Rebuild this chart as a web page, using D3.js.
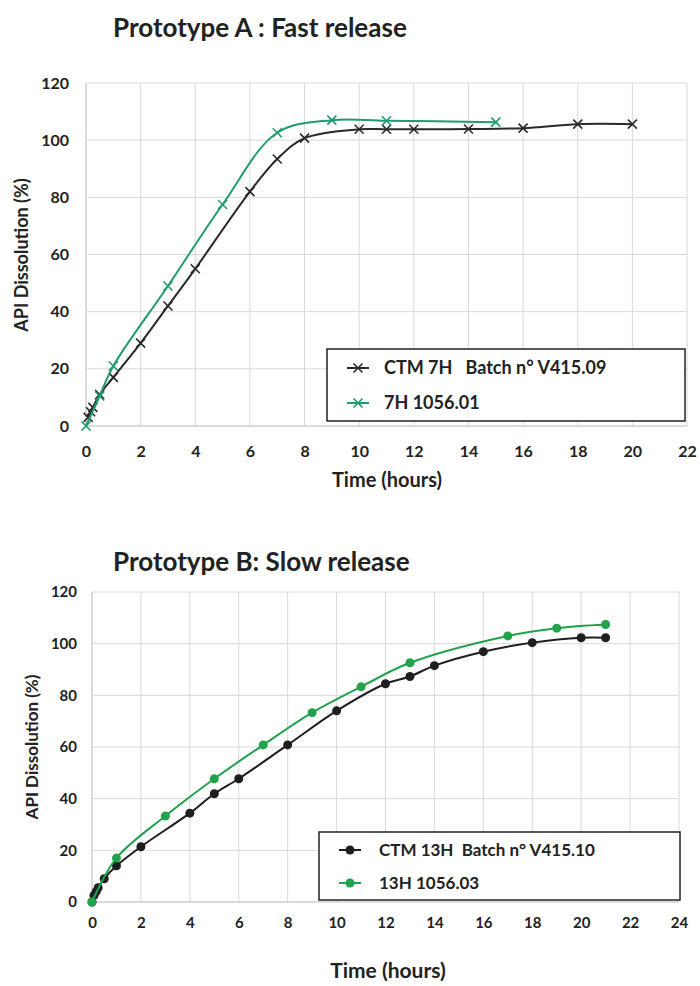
<!DOCTYPE html>
<html>
<head>
<meta charset="utf-8">
<script src="https://cdn.jsdelivr.net/npm/d3@7"></script>
<style>
  body { margin: 0; background: #fff; }
  svg { display: block; }
  text { font-family: Lato, "Open Sans", sans-serif; font-weight: bold; fill: #222; }
</style>
</head>
<body>
<svg id="chart" width="700" height="986"></svg>
<script>
// Prototype A : fast release
const timeA_ctm = [0.08, 0.17, 0.25, 0.5, 1, 2, 3, 4, 6, 7, 8, 10, 11, 12, 14, 16, 18, 20];
const dissA_ctm = [3, 5, 6.5, 11, 17, 29, 42, 55, 82, 93.4, 100.7, 103.8, 103.8, 103.8, 103.9, 104.2, 105.6, 105.6];
const timeA_new = [0, 0.5, 1, 3, 5, 7, 9, 11, 15];
const dissA_new = [0, 10.5, 21, 49, 77.5, 102.6, 107, 106.8, 106.3];

// Prototype B : slow release
const timeB_ctm = [0, 0.08, 0.17, 0.25, 0.5, 1, 2, 4, 5, 6, 8, 10, 12, 13, 14, 16, 18, 20, 21];
const dissB_ctm = [0, 2.5, 4, 5.5, 9, 14, 21.4, 34.4, 41.9, 47.7, 60.8, 74, 84.5, 87.3, 91.5, 96.9, 100.4, 102.3, 102.3];
const timeB_new = [0, 1, 3, 5, 7, 9, 11, 13, 17, 19, 21];
const dissB_new = [0, 17, 33.3, 47.7, 60.8, 73.3, 83.3, 92.6, 103, 106, 107.4];

const yTicks = [0, 20, 40, 60, 80, 100, 120];
const xTicksA = d3.range(0, 23, 2);
const xTicksB = d3.range(0, 25, 2);

let svg = d3.select("#chart");

function zip(xs, ys) {
  return xs.map(function(x, i) { return { t: x, v: ys[i] }; });
}

function drawChart(cfg) {
  let g = svg.append("g");

  let x = d3.scaleLinear().domain(cfg.xDomain).range(cfg.xRange);
  let y = d3.scaleLinear().domain([0, 120]).range(cfg.yRange);

  // title
  g.append("text")
    .attr("x", cfg.titleX)
    .attr("y", cfg.titleY)
    .style("font-size", "26px")
    .text(cfg.title);

  // grid
  g.selectAll(".vgrid")
    .data(cfg.xTicks)
    .enter().append("line")
    .attr("x1", d => x(d)).attr("x2", d => x(d))
    .attr("y1", y(0)).attr("y2", y(120))
    .attr("stroke", d => d === 0 ? "#b8b8b8" : "#d9d9d9")
    .attr("stroke-width", 1);

  g.selectAll(".hgrid")
    .data(yTicks)
    .enter().append("line")
    .attr("x1", x(0)).attr("x2", x(cfg.xDomain[1]))
    .attr("y1", d => y(d)).attr("y2", d => y(d))
    .attr("stroke", d => d === 0 ? "#b8b8b8" : "#d9d9d9")
    .attr("stroke-width", 1);

  // axes (labels only, lines drawn by grid)
  let xAxis = g.append("g")
    .attr("transform", "translate(0," + cfg.xLabelY + ")")
    .call(d3.axisBottom(x).tickValues(cfg.xTicks).tickSize(0).tickPadding(0));
  xAxis.select(".domain").remove();
  xAxis.selectAll("text")
    .style("font-size", cfg.tickFont)
    .attr("dy", "0.35em")
    .attr("fill", "#222");

  let yAxis = g.append("g")
    .attr("transform", "translate(" + cfg.yLabelX + ",0)")
    .call(d3.axisLeft(y).tickValues(yTicks).tickSize(0).tickPadding(0));
  yAxis.select(".domain").remove();
  yAxis.selectAll("text")
    .style("font-size", cfg.tickFont)
    .attr("fill", "#222");

  // axis titles
  g.append("text")
    .attr("x", cfg.xTitleX)
    .attr("y", cfg.xTitleY)
    .attr("text-anchor", "middle")
    .style("font-size", cfg.xTitleFont)
    .text("Time (hours)");

  g.append("text")
    .attr("transform", "translate(" + cfg.yTitleX + "," + cfg.yTitleY + ") rotate(-90)")
    .attr("text-anchor", "middle")
    .style("font-size", cfg.yTitleFont)
    .text("API Dissolution (%)");

  let line = d3.line()
    .x(d => x(d.t))
    .y(d => y(d.v))
    .curve(d3.curveCatmullRom.alpha(0.5));

  cfg.series.forEach(function(s) {
    let pts = zip(s.time, s.diss);
    g.append("path")
      .datum(pts)
      .attr("d", line)
      .attr("fill", "none")
      .attr("stroke", s.color)
      .attr("stroke-width", 2);

    drawMarkers(g, pts.map(p => [x(p.t), y(p.v)]), s.color, cfg.marker);
  });

  // legend
  let lg = g.append("g");
  lg.append("rect")
    .attr("x", cfg.legend.x).attr("y", cfg.legend.y)
    .attr("width", cfg.legend.w).attr("height", cfg.legend.h)
    .attr("fill", "#fff")
    .attr("stroke", "#222")
    .attr("stroke-width", 1.5);

  cfg.series.forEach(function(s, i) {
    let cy = cfg.legend.rows[i];
    lg.append("line")
      .attr("x1", cfg.legend.x + 20).attr("x2", cfg.legend.x + 42)
      .attr("y1", cy).attr("y2", cy)
      .attr("stroke", s.color).attr("stroke-width", 2);
    drawMarkers(lg, [[cfg.legend.x + 31, cy]], s.color, cfg.marker);
    lg.append("text")
      .attr("x", cfg.legend.x + cfg.legend.textDx)
      .attr("y", cy)
      .attr("dy", "0.36em")
      .style("font-size", cfg.legend.font)
      .style("white-space", "pre")
      .attr("xml:space", "preserve")
      .text(s.name);
  });
}

function drawMarkers(g, pts, color, kind) {
  if (kind === "x") {
    let r = 4.5;
    pts.forEach(function(p) {
      g.append("path")
        .attr("d", "M" + (p[0] - r) + "," + (p[1] - r) + "L" + (p[0] + r) + "," + (p[1] + r) +
                   "M" + (p[0] - r) + "," + (p[1] + r) + "L" + (p[0] + r) + "," + (p[1] - r))
        .attr("stroke", color)
        .attr("stroke-width", 1.6)
        .attr("fill", "none");
    });
  } else {
    g.selectAll(null)
      .data(pts)
      .enter().append("circle")
      .attr("cx", d => d[0]).attr("cy", d => d[1])
      .attr("r", 4.5)
      .attr("fill", color);
  }
}

drawChart({
  title: "Prototype A : Fast release",
  titleX: 113, titleY: 37,
  xDomain: [0, 22], xRange: [86, 687], yRange: [426, 83],
  xTicks: xTicksA,
  xLabelY: 451, yLabelX: 69,
  tickFont: "16px",
  xTitleFont: "20px", yTitleFont: "18px",
  xTitleX: 387, xTitleY: 487,
  yTitleX: 28, yTitleY: 255,
  marker: "x",
  series: [
    { name: "CTM 7H   Batch n° V415.09", time: timeA_ctm, diss: dissA_ctm, color: "#2a2a2a" },
    { name: "7H 1056.01", time: timeA_new, diss: dissA_new, color: "#1f9a72" }
  ],
  legend: { x: 327, y: 349, w: 358, h: 72, rows: [368, 403], textDx: 57, font: "18px" }
});

drawChart({
  title: "Prototype B: Slow release",
  titleX: 113, titleY: 571,
  xDomain: [0, 24], xRange: [92, 679], yRange: [902, 592],
  xTicks: xTicksB,
  xLabelY: 923, yLabelX: 77,
  tickFont: "15px",
  xTitleFont: "21px", yTitleFont: "17px",
  xTitleX: 388, xTitleY: 978,
  yTitleX: 38, yTitleY: 747,
  marker: "dot",
  series: [
    { name: "CTM 13H  Batch n° V415.10", time: timeB_ctm, diss: dissB_ctm, color: "#1e1e1e" },
    { name: "13H 1056.03", time: timeB_new, diss: dissB_new, color: "#22a24c" }
  ],
  legend: { x: 319, y: 832, w: 361, h: 68, rows: [850, 883], textDx: 60, font: "17px" }
});
</script>
</body>
</html>
